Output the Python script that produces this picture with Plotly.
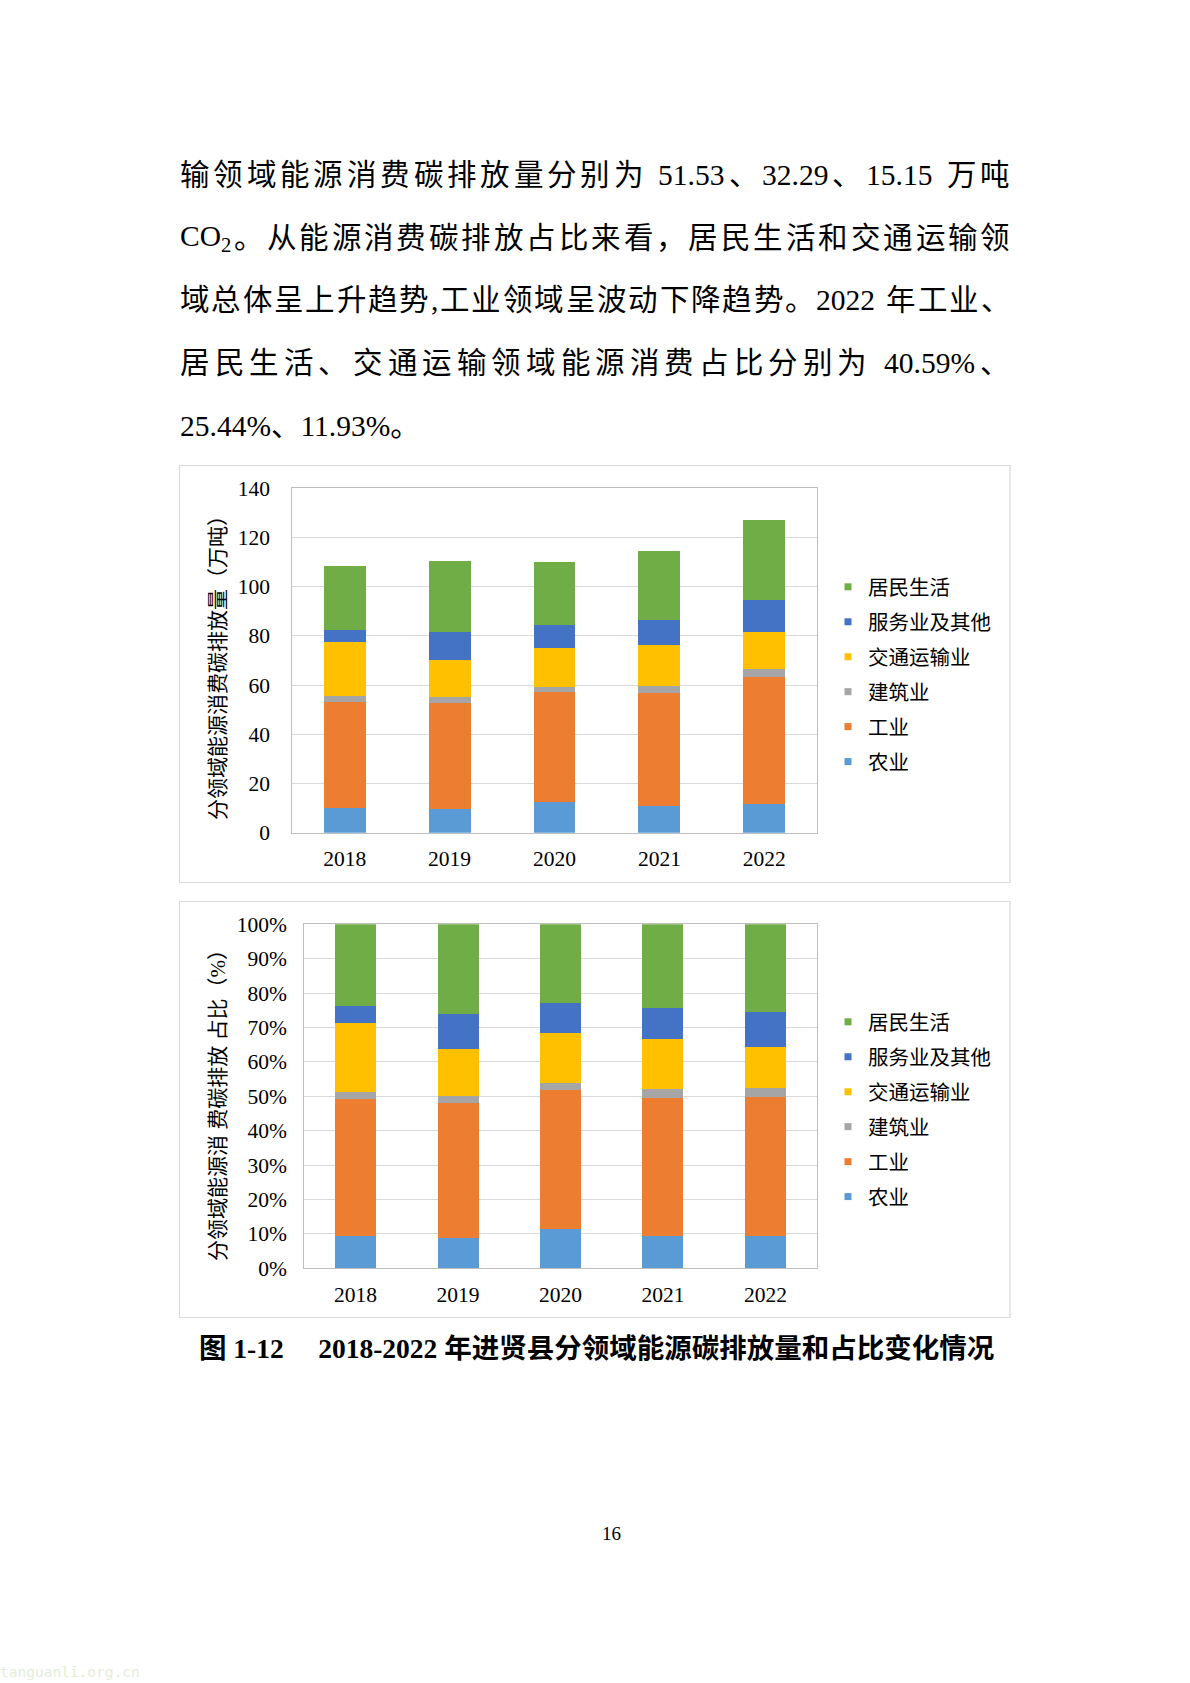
import numpy as np
import plotly.graph_objects as go

# ---------------- data ----------------
YEARS = ["2018", "2019", "2020", "2021", "2022"]
SECTORS = ["农业", "工业", "建筑业", "交通运输业", "服务业及其他", "居民生活"]
AGRI = [10.1, 9.7, 12.4, 10.8, 11.8]
INDUSTRY = [43.2, 43.2, 44.6, 45.9, 51.53]
CONSTRUCTION = [2.3, 2.3, 2.1, 3.1, 3.2]
TRANSPORT = [21.8, 15.0, 16.0, 16.5, 15.15]
SERVICES = [5.1, 11.3, 9.5, 10.2, 13.0]
RESIDENTS = [25.9, 28.8, 25.3, 28.0, 32.29]
COLORS = ["#5B9BD5", "#ED7D31", "#A5A5A5", "#FFC000", "#4472C4", "#70AD47"]

Y1_TICKS = [0, 20, 40, 60, 80, 100, 120, 140]
Y2_TICKS = [0, 10, 20, 30, 40, 50, 60, 70, 80, 90, 100]

Y1_TITLE = "分领域能源消费碳排放量（万吨）"
Y2_TITLE = "分领域能源消 费碳排放 占比（%）"

PARA_LINES = [
    ["输领域能源消费碳排放量分别为", " ", "51.53", "、", "32.29", "、", "15.15", " ", "万吨"],
    [("CO<sub>2</sub>", 1.74), "。从能源消费碳排放占比来看，居民生活和交通运输领"],
    ["域总体呈上升趋势", ",", "工业领域呈波动下降趋势。", "2022", " ", "年工业、"],
    ["居民生活、交通运输领域能源消费占比分别为", " ", "40.59%", "、"],
]
PARA_LAST = "25.44%、11.93%。"
CAPTION = "图 1-12\u3000 2018-2022 年进贤县分领域能源碳排放量和占比变化情况"
PAGE_NO = "16"
WATERMARK = "tanguanli.org.cn"

W, H = 1190, 1683
SERIES = [AGRI, INDUSTRY, CONSTRUCTION, TRANSPORT, SERVICES, RESIDENTS]
vals = np.array(SERIES, dtype=float)
share = vals / vals.sum(axis=0) * 100.0

SERIF = "Liberation Serif"
CJK = "Liberation Serif, Noto Sans CJK SC"


def px(x):
    return x / W


def py(y):
    return 1 - y / H


fig = go.Figure()

# bars
for name, v, s, c in zip(SECTORS, vals, share, COLORS):
    fig.add_trace(go.Bar(x=YEARS, y=v, name=name, marker=dict(color=c, line=dict(width=0)),
                         xaxis="x", yaxis="y", showlegend=False, hoverinfo="skip"))
    fig.add_trace(go.Bar(x=YEARS, y=s, name=name, marker=dict(color=c, line=dict(width=0)),
                         xaxis="x2", yaxis="y2", showlegend=False, hoverinfo="skip"))

# legend entries (small squares), top to bottom: 居民生活 ... 农业
for name, c in reversed(list(zip(SECTORS, COLORS))):
    fig.add_trace(go.Scatter(x=[None], y=[None], mode="markers", name=name,
                             marker=dict(symbol="square", size=7, color=c),
                             legendgroup="a" + name, legend="legend",
                             xaxis="x", yaxis="y", showlegend=True))
    fig.add_trace(go.Scatter(x=[None], y=[None], mode="markers", name=name,
                             marker=dict(symbol="square", size=7, color=c),
                             legendgroup="b" + name, legend="legend2",
                             xaxis="x2", yaxis="y2", showlegend=True))

tickfont = dict(family=SERIF, size=21.5, color="#000")
common_x = dict(type="category", showline=True, linecolor="#bfbfbf", linewidth=1, mirror=True,
                showgrid=False, ticks="", tickfont=tickfont, fixedrange=True, automargin=False)
common_y = dict(showline=True, linecolor="#bfbfbf", linewidth=1, mirror=True,
                showgrid=True, gridcolor="#d9d9d9", gridwidth=1, zeroline=False,
                ticks="", tickfont=tickfont, fixedrange=True, automargin=False)

legend_common = dict(xanchor="left", yanchor="top", traceorder="grouped",
                     tracegroupgap=5.3, bgcolor="rgba(0,0,0,0)", borderwidth=0,
                     font=dict(family=CJK, size=20.5, color="#000"), itemclick=False,
                     itemdoubleclick=False)

fig.update_layout(
    width=W, height=H, margin=dict(l=0, r=0, t=0, b=0, pad=0, autoexpand=False),
    paper_bgcolor="white", plot_bgcolor="white",
    barmode="stack", bargap=0.6, showlegend=True,
    xaxis=dict(common_x, domain=[px(292.3), px(816.7)], anchor="y", ticklabelstandoff=6),
    yaxis=dict(common_y, domain=[py(832.7), py(488.3)], anchor="x", range=[0, 140],
               tickvals=Y1_TICKS, ticklabelstandoff=17),
    xaxis2=dict(common_x, domain=[px(304.3), px(816.7)], anchor="y2", ticklabelstandoff=7),
    yaxis2=dict(common_y, domain=[py(1268.3), py(924.3)], anchor="x2", range=[0, 100],
                tickvals=Y2_TICKS, ticktext=[f"{t}%" for t in Y2_TICKS], ticklabelstandoff=12),
    legend=dict(legend_common, x=px(828), y=py(567)),
    legend2=dict(legend_common, x=px(828), y=py(1002)),
)

# chart frames
for (y0, y1) in [(465.5, 882.5), (901.5, 1317.5)]:
    fig.add_shape(type="rect", xref="paper", yref="paper", x0=px(179.5), x1=px(1010),
                  y0=py(y1), y1=py(y0), line=dict(color="#d9d9d9", width=1.2), layer="below")

ann = []
# y-axis titles
ann.append(dict(text=Y1_TITLE, x=px(218), y=py(662), textangle=-90,
                font=dict(family=CJK, size=21, color="#000")))
ann.append(dict(text=Y2_TITLE, x=px(218), y=py(1100), textangle=-90,
                font=dict(family=CJK, size=21, color="#000")))

# justified paragraph
FS = 29.5
LEFT, RIGHT = 180.0, 1010.0
LINE_Y = [175, 237.5, 300.5, 363, 426]
NARROW = {".": 0.25, ",": 0.25, "%": 0.833, " ": 0.25, "-": 0.333}


def char_w(ch):
    if ord(ch) > 0x2E80:
        return 1.0
    if ch.isdigit():
        return 0.5
    return NARROW.get(ch, 0.55)


def units_of(line):
    out = []
    for seg in line:
        if isinstance(seg, tuple):
            out.append((seg[0], seg[1]))
        elif seg == " ":
            out.append((None, 0.25))
        elif all(ord(ch) < 0x2E80 for ch in seg):
            out.append((seg, sum(char_w(ch) for ch in seg)))
        else:
            buf = ""
            for ch in seg:
                if ord(ch) > 0x2E80:
                    if buf:
                        out.append((buf, sum(char_w(c) for c in buf)))
                        buf = ""
                    out.append((ch, 1.0))
                else:
                    buf += ch
            if buf:
                out.append((buf, sum(char_w(c) for c in buf)))
    return out


for line, yc in zip(PARA_LINES, LINE_Y):
    units = units_of(line)
    total = sum(w for _, w in units) * FS
    gap = (RIGHT - LEFT - total) / (len(units) - 1)
    xcur = LEFT
    for t, w in units:
        if t is not None:
            ann.append(dict(text=t, x=px(xcur), y=py(yc), xanchor="left",
                            font=dict(family=CJK, size=FS, color="#000")))
        xcur += w * FS + gap

ann.append(dict(text=PARA_LAST, x=px(LEFT), y=py(LINE_Y[4]), xanchor="left",
                font=dict(family=CJK, size=FS, color="#000")))

# caption, page number, watermark
ann.append(dict(text="<b>" + CAPTION + "</b>", x=px(596), y=py(1348),
                font=dict(family=CJK, size=27.5, color="#000")))
ann.append(dict(text=PAGE_NO, x=px(612), y=py(1533),
                font=dict(family=SERIF, size=19, color="#000")))
ann.append(dict(text=WATERMARK, x=px(0), y=py(1672), xanchor="left",
                font=dict(family="DejaVu Sans Mono", size=14.5, color="#e2edd9")))

for a in ann:
    a.setdefault("xanchor", "center")
    a.update(xref="paper", yref="paper", showarrow=False, yanchor="middle",
             borderpad=0, borderwidth=0)
fig.update_layout(annotations=ann)

fig.write_html("out.html")
